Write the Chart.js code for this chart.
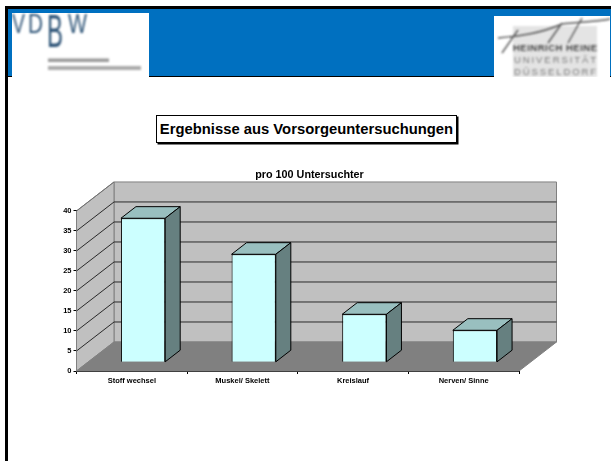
<!DOCTYPE html>
<html><head><meta charset="utf-8">
<style>
html,body{margin:0;padding:0;background:#fff;width:611px;height:461px;overflow:hidden;font-family:"Liberation Sans",Arial,sans-serif}
.a{position:absolute}
#title{left:156px;top:115px;width:299px;height:26px;border:1px solid #000;box-shadow:1.5px 1.5px 0 #000;background:#fff;text-align:center;font-weight:bold;font-size:14.8px;line-height:26px;color:#000;white-space:nowrap}
</style></head><body>
<div class="a" style="left:5px;top:6px;width:606px;height:3px;background:#000"></div>
<div class="a" style="left:5px;top:6px;width:3px;height:455px;background:#000"></div>
<div class="a" style="left:8px;top:9px;width:603px;height:67px;background:#0070c0;border-bottom:1px solid #000"></div>
<div class="a" style="left:12px;top:13px;width:137px;height:64px;background:#fff;overflow:hidden">
<svg width="137" height="64"><defs><filter id="b" x="-20%" y="-20%" width="140%" height="140%"><feGaussianBlur stdDeviation="0.8"/></filter></defs>
<g filter="url(#b)" font-family="Liberation Sans" fill="#2f5578">
<text x="0" y="20" font-size="28" textLength="13" lengthAdjust="spacingAndGlyphs">V</text>
<text x="16" y="20" font-size="28" textLength="15" lengthAdjust="spacingAndGlyphs">D</text>
<text x="35" y="34" font-size="47" textLength="16" lengthAdjust="spacingAndGlyphs">B</text>
<text x="56" y="20" font-size="28" textLength="19" lengthAdjust="spacingAndGlyphs">W</text>
<rect x="36" y="45.5" width="61" height="3.5" fill="#999"/><rect x="36" y="53" width="93" height="4" fill="#aaa"/></g></svg></div>
<div class="a" style="left:494px;top:16px;width:116px;height:61px;background:#fff;overflow:hidden">
<svg width="116" height="61"><defs><filter id="c" x="-20%" y="-20%" width="140%" height="140%"><feGaussianBlur stdDeviation="0.8"/></filter></defs>
<rect x="19" y="10" width="84" height="51" fill="#e4e4e4" filter="url(#c)"/>
<g filter="url(#c)" fill="none" stroke="#555" stroke-width="1.4"><path d="M4 22 C25 20 45 18 68 8 C85 6 100 6 116 3 M24 14 L8 37 M68 7 L54 27 M88 2 L74 27"/></g>
<g filter="url(#c)" font-family="Liberation Sans" font-size="9.5" text-anchor="middle"><text x="61" y="35" font-weight="bold" textLength="84" fill="#444">HEINRICH HEINE</text><text x="61" y="47" textLength="82" fill="#777">UNIVERSITÄT</text><text x="61" y="59" textLength="82" fill="#777">DÜSSELDORF</text></g></svg></div>
<div class="a" id="title">Ergebnisse aus Vorsorgeuntersuchungen</div>
<div class="a" style="left:4px;top:0;width:607px;height:461px"><canvas id="c1" width="607" height="461"></canvas></div>
<script src="https://cdn.jsdelivr.net/npm/chart.js@4"></script>
<script>
const categories = ["Stoff wechsel", "Muskel/ Skelett", "Kreislauf", "Nerven/ Sinne"];
const seriesValues = [36, 27, 12, 8];
const yTicks = [0, 5, 10, 15, 20, 25, 30, 35, 40];
const subtitle = "pro 100 Untersuchter";

const DX = 37.5, DY = -29, BAR_NEAR = 0.3, BAR_DEPTH = 0.4;

function poly(ctx, pts, fill, stroke, lw) {
  ctx.beginPath();
  pts.forEach((p, i) => i ? ctx.lineTo(p[0], p[1]) : ctx.moveTo(p[0], p[1]));
  ctx.closePath();
  if (fill) { ctx.fillStyle = fill; ctx.fill(); }
  if (stroke) { ctx.strokeStyle = stroke; ctx.lineWidth = lw || 1; ctx.stroke(); }
}

const box3d = {
  id: "box3d",
  afterLayout(chart) {
    if (chart.titleBlock) { chart.titleBlock.left = 4; chart.titleBlock.right = 607; }
  },
  beforeDatasetsDraw(chart) {
    const { ctx, chartArea: a, scales: { y } } = chart;
    const l = a.left, r = a.right, t = y.getPixelForValue(40), b = y.getPixelForValue(0);
    ctx.save();
    poly(ctx, [[l + DX, t + DY], [r + DX, t + DY], [r + DX, b + DY], [l + DX, b + DY]], "#c0c0c0", "#808080", 1);
    poly(ctx, [[l, t], [l + DX, t + DY], [l + DX, b + DY], [l, b]], "#c0c0c0", "#808080", 1);
    poly(ctx, [[l, b], [l + DX, b + DY], [r + DX, b + DY], [r, b]], "#808080", "#808080", 1);
    ctx.strokeStyle = "#2a2a2a"; ctx.lineWidth = 1;
    yTicks.forEach(v => {
      if (v === 0 || v === 40) return;
      const p = y.getPixelForValue(v);
      ctx.beginPath(); ctx.moveTo(l, p); ctx.lineTo(l + DX, p + DY); ctx.lineTo(r + DX, p + DY); ctx.stroke();
    });
    ctx.beginPath(); ctx.moveTo(l, t); ctx.lineTo(l + DX, t + DY); ctx.strokeStyle = "#707070"; ctx.stroke();
    ctx.restore();
  },
  beforeDatasetDraw(chart, args) {
    const ctx = chart.ctx;
    ctx.save();
    ctx.translate(DX * BAR_NEAR, DY * BAR_NEAR);
    const dx = DX * BAR_DEPTH, dy = DY * BAR_DEPTH;
    chart.getDatasetMeta(args.index).data.forEach(bar => {
      const L = bar.x - bar.width / 2, R = bar.x + bar.width / 2, T = bar.y, B = bar.base;
      poly(ctx, [[L, T], [L + dx, T + dy], [R + dx, T + dy], [R, T]], "#99bfbf", "#000", 1);
      poly(ctx, [[R, T], [R + dx, T + dy], [R + dx, B + dy], [R, B]], "#668080", "#000", 1);
    });
  },
  afterDatasetDraw(chart) { chart.ctx.restore(); }
};

new Chart(document.getElementById("c1"), {
  type: "bar",
  data: { labels: categories, datasets: [{
    data: seriesValues, backgroundColor: "#ccffff", borderColor: "#000", borderWidth: 1,
    barPercentage: 0.4, categoryPercentage: 1, clip: false
  }] },
  plugins: [box3d],
  options: {
    responsive: false, animation: false, devicePixelRatio: 1,
    layout: { padding: { left: 0, right: 92, top: 0, bottom: 0 }, autoPadding: false },
    plugins: {
      legend: { display: false }, tooltip: { enabled: false },
      title: { display: true, text: subtitle, color: "#000", font: { family: "Liberation Sans", size: 10.8, weight: "bold" },
               padding: { top: 169, bottom: 29 } }
    },
    scales: {
      x: {
        grid: { drawOnChartArea: false, drawTicks: true, tickLength: 3, color: "#000" }, border: { color: "#000" },
        ticks: { color: "#000", maxRotation: 0, autoSkip: false, padding: 2, font: { family: "Liberation Sans", size: 7.5, weight: "bold" } },
        afterFit(s) { s.height = 90; }
      },
      y: {
        min: 0, max: 40,
        afterBuildTicks(s) { s.ticks = yTicks.map(v => ({ value: v })); },
        grid: { drawOnChartArea: false, drawTicks: true, tickLength: 3, color: "#000" }, border: { color: "#000" },
        ticks: { color: "#000", padding: 2, font: { family: "Liberation Sans", size: 7.5, weight: "bold" } },
        afterFit(s) { s.width = 72.5; }
      }
    }
  }
});
</script>
</body></html>
